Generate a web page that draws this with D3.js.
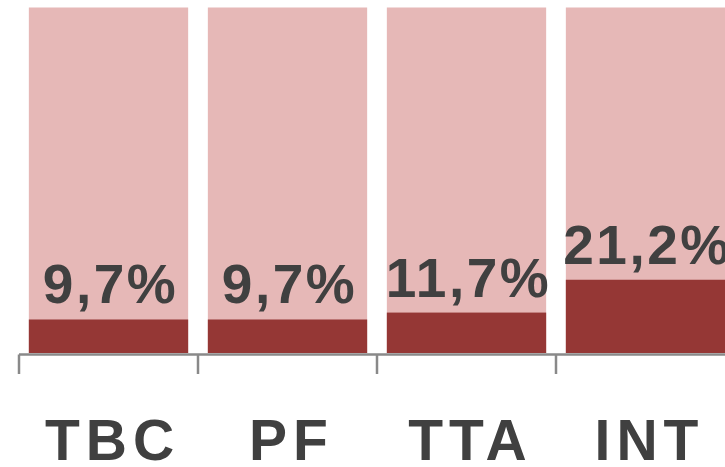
<!DOCTYPE html>
<html>
<head>
<meta charset="utf-8">
<script src="https://cdnjs.cloudflare.com/ajax/libs/d3/7.8.5/d3.min.js"></script>
<style>
  html, body { margin: 0; padding: 0; background: #fff; }
  svg { display: block; }
  text { font-family: "Liberation Sans", Arial, sans-serif; font-weight: bold; fill: #404040; }
</style>
</head>
<body>
<div id="chart"></div>
<script>
// data
var categories = ["TBC", "PF", "TTA", "INT"];
var shareValues = [9.7, 9.7, 11.7, 21.2];   // dark part, percent
var totalValues = [100, 100, 100, 100];     // full bar
var valueLabels = ["9,7%", "9,7%", "11,7%", "21,2%"];

var width = 725,
    height = 467,
    baseY = 353,
    topY = 7.5;

var svg = d3.select("#chart").append("svg")
    .attr("width", width)
    .attr("height", height);

var x = d3.scaleBand()
    .domain(categories)
    .range([19, 735])
    .paddingInner(0.11)
    .paddingOuter(0.055);

var y = d3.scaleLinear()
    .domain([0, 100])
    .range([baseY, topY]);

var rows = categories.map(function (c, i) {
    return { cat: c, share: shareValues[i], total: totalValues[i], label: valueLabels[i] };
});

// light full bars
svg.append("g").selectAll("rect")
    .data(rows)
    .enter().append("rect")
    .attr("x", d => x(d.cat))
    .attr("width", x.bandwidth())
    .attr("y", d => y(d.total))
    .attr("height", d => y(0) - y(d.total))
    .attr("fill", "#e6b8b7");

// dark share bars
svg.append("g").selectAll("rect")
    .data(rows)
    .enter().append("rect")
    .attr("x", d => x(d.cat))
    .attr("width", x.bandwidth())
    .attr("y", d => y(d.share))
    .attr("height", d => y(0) - y(d.share))
    .attr("fill", "#953735");

// value labels
svg.append("g").selectAll("text")
    .data(rows)
    .enter().append("text")
    .attr("x", d => x(d.cat) + x.bandwidth() / 2 + 2)
    .attr("y", d => y(d.share) - 16)
    .attr("text-anchor", "middle")
    .style("font-size", "55px")
    .style("letter-spacing", "2.5px")
    .text(d => d.label);

// axis line and ticks between categories
var half = x.step() * x.paddingInner() / 2;
var ax = svg.append("g").attr("stroke", "#898989").attr("stroke-width", 2.5).attr("fill", "none");
ax.append("line")
    .attr("x1", x(categories[0]) - half)
    .attr("x2", width)
    .attr("y1", baseY + 1.5)
    .attr("y2", baseY + 1.5);
ax.selectAll("line.tick")
    .data(categories)
    .enter().append("line")
    .attr("class", "tick")
    .attr("x1", d => x(d) - half)
    .attr("x2", d => x(d) - half)
    .attr("y1", baseY + 1.5)
    .attr("y2", 374);

// category labels
svg.append("g").selectAll("text")
    .data(categories)
    .enter().append("text")
    .attr("x", d => x(d) + x.bandwidth() / 2 + 4)
    .attr("y", 460)
    .attr("text-anchor", "middle")
    .style("font-size", "57px")
    .style("letter-spacing", "6px")
    .text(d => d);
</script>
</body>
</html>
